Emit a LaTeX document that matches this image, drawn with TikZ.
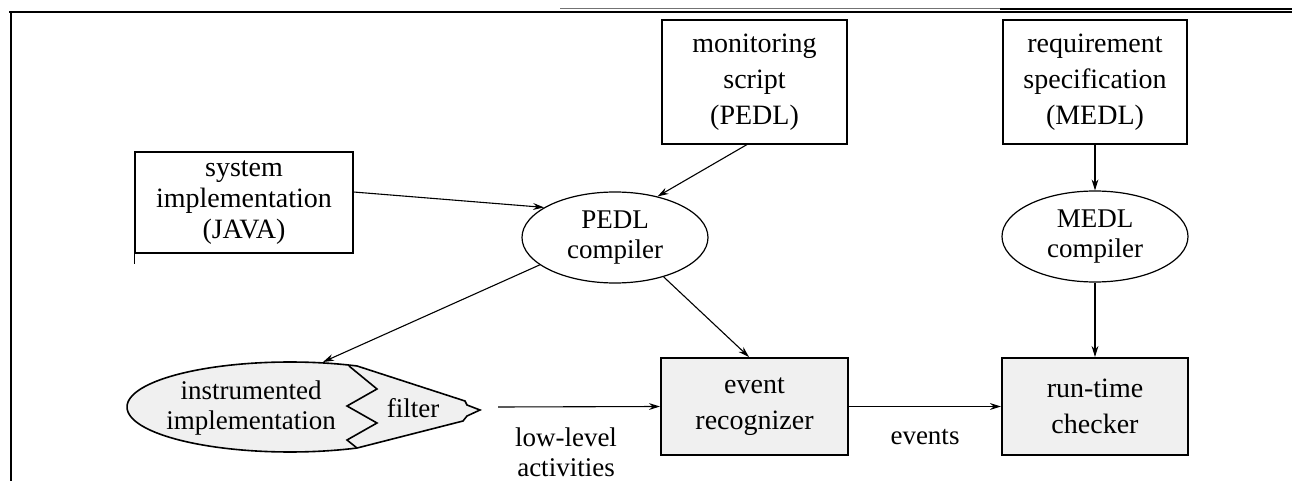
\documentclass[tikz,border=0pt]{standalone}
\usepackage{fontspec}
\setmainfont{Liberation Serif}
\usetikzlibrary{shapes.geometric,arrows.meta,calc}

\begin{document}
\begin{tikzpicture}[x=0.5pt,y=-0.5pt,
  every node/.style={font=\fontsize{14}{18}\selectfont, inner sep=0pt, align=center},
  srcbox/.style={draw, line width=0.55pt, rectangle},
  runbox/.style={draw, line width=1pt, rectangle, fill=black!6},
  compiler/.style={draw, line width=0.6pt, ellipse, minimum width=93pt, minimum height=45.5pt,
    font=\fontsize{13.5}{15}\selectfont},
  flow/.style={line width=0.55pt, -{Stealth[length=5.5pt,width=3.4pt,inset=1.8pt]}},
  label/.style={font=\fontsize{13.5}{15}\selectfont},
]
\useasboundingbox (0,0) rectangle (1292,481);

% page frame
\draw[line width=1pt] (9,12.5) -- (1292,12.5);
\draw[line width=0.5pt, black!55] (560,9) -- (1000,9);
\draw[line width=0.6pt] (1000,9) -- (1292,9);
\draw[line width=1pt] (11,12) -- (11,481);

% source boxes
\node[srcbox, minimum width=109pt, minimum height=50.5pt, font=\fontsize{14}{15.5}\selectfont]
  (sys) at (244,202.5) {system\\implementation\\(JAVA)};
\draw[line width=0.55pt] (sys.south west) -- ++(0,10);
\node[srcbox, minimum width=92.5pt, minimum height=62pt] (mon) at (754.5,82)
  {monitoring\\script\\(PEDL)};
\node[srcbox, minimum width=92pt, minimum height=62pt] (req) at (1095,82)
  {requirement\\specification\\(MEDL)};

% compilers
\node[compiler] (pedl) at (615,237.5) {PEDL\\compiler};
\node[compiler] (medl) at (1095,236.5) {MEDL\\compiler};

% instrumented implementation with its filter
\filldraw[fill=black!6, line width=0.8pt]
  plot[domain=65.7:294.3, samples=90] ({290+163*cos(\x)}, {407-45*sin(\x)})
  -- (463,421) -- (467,416) -- (480,410) -- (467,405) -- (465,401) -- cycle;
\draw[line width=0.8pt] (349,366) -- (377,389) -- (347,406) -- (377,423) -- (347,440) -- (357,448);
\node[label] (instr) at (251,408) {instrumented\\implementation};
\node[label] (filt) at (413,408) {filter};
\coordinate (instrtop) at (323,362);
\coordinate (lowstart) at (498,407);

% run-time boxes
\node[runbox, minimum width=93.5pt, minimum height=48.5pt] (event) at (754.5,406.5)
  {event\\recognizer};
\node[runbox, minimum width=93pt, minimum height=48.5pt] (rt) at (1095,406.5)
  {run-time\\checker};

% connectors
\draw[flow] ([yshift=5.25pt]sys.east) -- (pedl.157);
\draw[flow] ([xshift=-3.75pt]mon.south) -- (pedl.44);
\draw[flow] (req.south) -- (medl.north);
\draw[flow] (pedl.200) -- (instrtop);
\draw[flow] (pedl.-39) -- ([xshift=-2.75pt]event.north);
\draw[flow] (medl.south) -- (rt.north);
\draw[flow] (lowstart) -- (event.west);
\draw[flow] (event.east) -- (rt.west);

% connector labels
\node[label] (lowlbl) at (566,452) {low-level\\activities};
\node[label] (evlbl) at (925,437) {events};
\end{tikzpicture}
\end{document}
